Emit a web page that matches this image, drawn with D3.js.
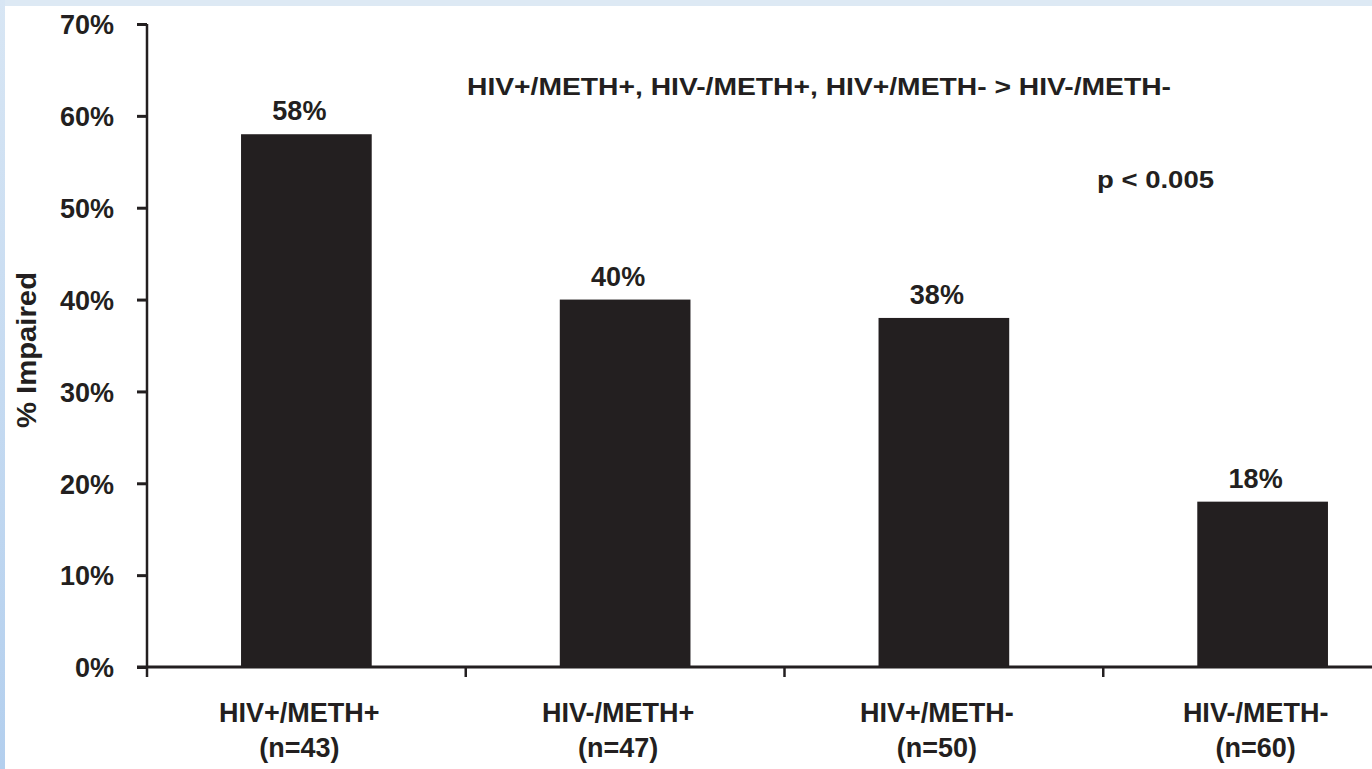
<!DOCTYPE html>
<html>
<head>
<meta charset="utf-8">
<script src="https://cdn.jsdelivr.net/npm/d3@7"></script>
<style>
  html, body { margin: 0; padding: 0; background: #ffffff; }
  svg { display: block; }
  text { font-family: "Liberation Sans", Arial, Helvetica, sans-serif; font-weight: bold; fill: #231f20; }
</style>
</head>
<body>
<svg id="chart" width="1372" height="769"></svg>
<script>
// ---- data ----
const groups = ["HIV+/METH+", "HIV-/METH+", "HIV+/METH-", "HIV-/METH-"];
const sampleSizes = ["(n=43)", "(n=47)", "(n=50)", "(n=60)"];
const impaired = [0.58, 0.40, 0.38, 0.18];
const yTicks = [0, 0.1, 0.2, 0.3, 0.4, 0.5, 0.6, 0.7];
const yTitle = "% Impaired";
const comparisonNote = "HIV+/METH+, HIV-/METH+, HIV+/METH- > HIV-/METH-";
const pNote = "p < 0.005";

// ---- layout ----
const W = 1372, H = 769;
const ink = "#231f20";
const svg = d3.select("#chart");

// background frame
const defs = svg.append("defs");
const grad = defs.append("linearGradient").attr("id", "leftband").attr("x1", 0).attr("y1", 0).attr("x2", 0).attr("y2", 1);
grad.append("stop").attr("offset", "0%").attr("stop-color", "#d8e6f4");
grad.append("stop").attr("offset", "100%").attr("stop-color", "#b3cfee");
svg.append("rect").attr("x", 0).attr("y", 0).attr("width", W).attr("height", H).attr("fill", "#ffffff");
svg.append("rect").attr("x", 0).attr("y", 0).attr("width", W).attr("height", 6).attr("fill", "#dde9f4");
svg.append("rect").attr("x", 0).attr("y", 0).attr("width", 5).attr("height", H).attr("fill", "url(#leftband)");

const x0 = 147, y0 = 667, yTop = 24;
const step = 318.75;
const x = d3.scaleBand().domain(groups).range([x0, x0 + step * groups.length]).padding(0);
const y = d3.scaleLinear().domain([0, 0.7]).range([y0, yTop]);
const barW = x.bandwidth() * 0.41;
const textShift = -7;

// bars
svg.append("g").selectAll("rect").data(groups).join("rect")
  .attr("x", d => x(d) + x.bandwidth() / 2 - barW / 2)
  .attr("y", (d, i) => y(impaired[i]))
  .attr("width", barW)
  .attr("height", (d, i) => y(0) - y(impaired[i]))
  .attr("fill", ink);

// value labels
svg.append("g").selectAll("text").data(groups).join("text")
  .attr("x", d => x(d) + x.bandwidth() / 2 + textShift)
  .attr("y", (d, i) => y(impaired[i]) - 14)
  .attr("text-anchor", "middle")
  .style("font-size", "27px")
  .text((d, i) => d3.format(".0%")(impaired[i]));

// y axis
const yAxis = d3.axisLeft(y).tickValues(yTicks).tickFormat(d3.format(".0%")).tickSize(10).tickPadding(23);
const gy = svg.append("g").attr("transform", `translate(${x0},0)`).call(yAxis);
gy.select(".domain").attr("stroke", ink).attr("stroke-width", 2.5).attr("d", `M0,${yTop}V${y0}`);
gy.selectAll(".tick line").attr("stroke", ink).attr("stroke-width", 3);
gy.selectAll(".tick text").style("font-size", "27px").attr("fill", ink).attr("dy", "0.36em").style("font-family", null);

// x axis
const boundaries = groups.map(g => x(g));
const gx = svg.append("g");
gx.append("line").attr("x1", x0 - 10).attr("x2", W).attr("y1", y0).attr("y2", y0)
  .attr("stroke", ink).attr("stroke-width", 3);
gx.selectAll("line.tk").data(boundaries).join("line").attr("class", "tk")
  .attr("x1", d => d).attr("x2", d => d).attr("y1", y0).attr("y2", y0 + 10)
  .attr("stroke", ink).attr("stroke-width", 2.5);
const lbl = gx.selectAll("text").data(groups).join("text")
  .attr("text-anchor", "middle")
  .style("font-size", "27px");
lbl.append("tspan").attr("x", d => x(d) + x.bandwidth() / 2 + textShift).attr("y", 722).text(d => d);
lbl.append("tspan").attr("x", d => x(d) + x.bandwidth() / 2 + textShift).attr("y", 757).text((d, i) => sampleSizes[i]);

// y title
svg.append("text")
  .attr("transform", "translate(36,350) rotate(-90)")
  .attr("text-anchor", "middle")
  .style("font-size", "27px")
  .attr("textLength", 156).attr("lengthAdjust", "spacingAndGlyphs")
  .text(yTitle);

// annotations
svg.append("text").attr("x", 467).attr("y", 95)
  .style("font-size", "23px")
  .attr("textLength", 704).attr("lengthAdjust", "spacingAndGlyphs")
  .text(comparisonNote);
svg.append("text").attr("x", 1097).attr("y", 188)
  .style("font-size", "23px")
  .attr("textLength", 117).attr("lengthAdjust", "spacingAndGlyphs")
  .text(pNote);
</script>
</body>
</html>
